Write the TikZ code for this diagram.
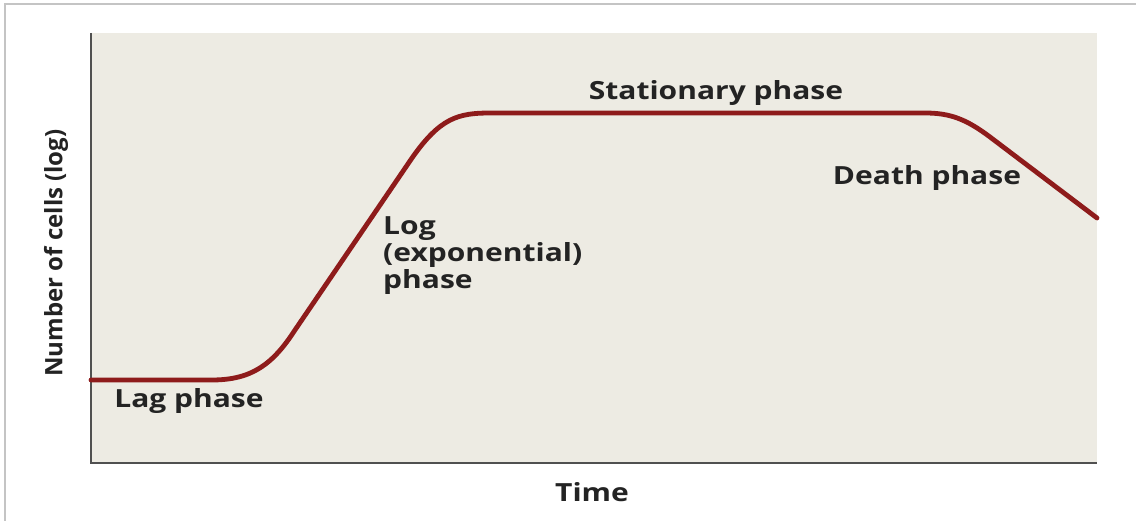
\documentclass[tikz,border=0pt]{standalone}
\usepackage{fontspec}
\setmainfont{Open Sans}
\definecolor{plotbg}{HTML}{EDEBE3}
\definecolor{curvecol}{HTML}{8E1B1B}
\definecolor{axiscol}{HTML}{505050}
\definecolor{framecol}{HTML}{C4C4C4}
\definecolor{txtcol}{HTML}{232323}
\tikzset{
  lbl/.style={font=\bfseries\fontsize{25}{27}\selectfont, text=txtcol, inner sep=0pt, xscale=1.2},
  ylbl/.style={font=\bfseries\fontsize{24}{26}\selectfont, text=txtcol, inner sep=0pt},
  curve/.style={draw=curvecol, line width=4.8pt, line join=round, line cap=round},
  axisline/.style={draw=axiscol, line width=2.2pt},
}
\begin{document}
\begin{tikzpicture}[x=1pt,y=-1pt]
\useasboundingbox[fill=white] (0,0) rectangle (1136,521);
% outer frame
\draw[framecol, line width=2pt] (5,521) -- (5,4) -- (1136,4);
% plot area
\fill[plotbg] (91,33) rectangle (1097,463);
\coordinate (tl) at (91,33);
\coordinate (bl) at (91,463);
\coordinate (br) at (1097,463);
\draw[axisline] (tl) -- (bl) -- (br);
% growth curve
\coordinate (c0) at (91,380);
\coordinate (c1) at (212,380);
\coordinate (c2) at (295,330);
\coordinate (c3) at (412,158);
\coordinate (c4) at (490,113);
\coordinate (c5) at (925,113);
\coordinate (c6) at (990,137);
\coordinate (c7) at (1097,218);
\draw[curve] (c0) -- (c1) .. controls (252,380) and (273,364) .. (c2)
  -- (c3) .. controls (440,118) and (458,113) .. (c4)
  -- (c5) .. controls (950,113) and (966,119) .. (c6) -- (c7);
% labels
\node[lbl] (lag) at (189,401) {Lag phase};
\node[lbl, align=left, anchor=north west] (log) at (383,216) {Log\\(exponential)\\phase};
\node[lbl] (stat) at (716,93) {Stationary phase};
\node[lbl] (death) at (927,178) {Death phase};
\node[lbl] (time) at (592,492) {Time};
\node[ylbl, rotate=90] (ylab) at (56,253) {Number of cells (log)};
\end{tikzpicture}
\end{document}
